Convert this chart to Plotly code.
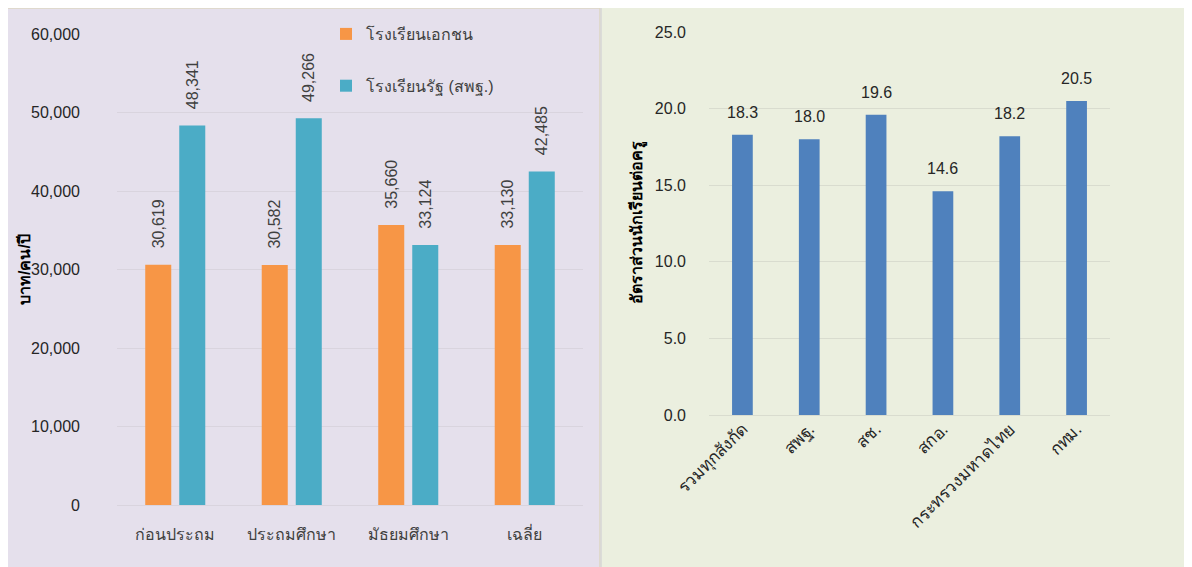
import plotly.graph_objects as go

# ---- data ----
left_categories = ["ก่อนประถม", "ประถมศึกษา", "มัธยมศึกษา", "เฉลี่ย"]
private_values = [30619, 30582, 35660, 33130]
public_values = [48341, 49266, 33124, 42485]
private_name = "โรงเรียนเอกชน"
public_name = "โรงเรียนรัฐ (สพฐ.)"
left_ytitle = "บาท/คน/ปี"

right_categories = ["รวมทุกสังกัด", "สพฐ.", "สช.", "สกอ.", "กระทรวงมหาดไทย", "กทม."]
ratio_values = [18.3, 18.0, 19.6, 14.6, 18.2, 20.5]
right_ytitle = "อัตราส่วนนักเรียนต่อครู"

# page body has an 8px margin; lay out in reference-pixel terms and compensate
OFF = 8
W, H = 1192 - OFF, 567 - OFF
FONT = "Liberation Sans, Arial, sans-serif"
TXT = "#262626"
TICK = "#404040"


def px_x(p):
    return (p - OFF) / W


def px_y(p):
    return 1 - (p - OFF) / H


pad = "\u00a0\u00a0\u00a0"

fig = go.Figure()
fig.add_trace(go.Bar(
    x=left_categories, y=private_values, name=private_name,
    marker=dict(color="#f79646", line=dict(width=0)),
    text=[pad + f"{v:,}" for v in private_values], textposition="outside",
    textangle=-90, textfont=dict(size=16, color=TICK, family=FONT),
    constraintext="none", cliponaxis=False, legendgroup="a", xaxis="x", yaxis="y",
))
fig.add_trace(go.Bar(
    x=left_categories, y=public_values, name=public_name,
    marker=dict(color="#4bacc6", line=dict(width=0)),
    text=[pad + f"{v:,}" for v in public_values], textposition="outside",
    textangle=-90, textfont=dict(size=16, color=TICK, family=FONT),
    constraintext="none", cliponaxis=False, legendgroup="b", xaxis="x", yaxis="y",
))
fig.add_trace(go.Bar(
    x=right_categories, y=ratio_values, name="ratio",
    marker=dict(color="#4f81bd", line=dict(width=0)),
    showlegend=False, xaxis="x2", yaxis="y2", width=0.31,
))

annotations = []
for c, v in zip(right_categories, ratio_values):
    annotations.append(dict(
        x=c, y=v, xref="x2", yref="y2", text=f"{v:.1f}", showarrow=False,
        yanchor="bottom", yshift=12, font=dict(size=16, color=TXT, family=FONT),
    ))
annotations.append(dict(
    x=px_x(24), y=px_y(270), xref="paper", yref="paper", text="<b>" + left_ytitle + "</b>",
    textangle=-90, showarrow=False, xanchor="center", yanchor="middle",
    font=dict(size=16, color="#000000", family=FONT),
))
annotations.append(dict(
    x=px_x(638), y=px_y(223), xref="paper", yref="paper", text="<b>" + right_ytitle + "</b>",
    textangle=-90, showarrow=False, xanchor="center", yanchor="middle",
    font=dict(size=16, color="#000000", family=FONT),
))

shapes = [
    dict(type="rect", xref="paper", yref="paper", x0=px_x(5), x1=px_x(600),
         y0=-0.05, y1=px_y(8), fillcolor="#e5e0ec", line=dict(color="#ddd6c2", width=1.5),
         layer="below"),
    dict(type="rect", xref="paper", yref="paper", x0=px_x(601), x1=px_x(1190),
         y0=-0.05, y1=px_y(6), fillcolor="#ebefdf", line=dict(color="#d6d6d6", width=1.5),
         layer="below"),
]

fig.update_layout(
    template="none",
    width=W, height=H,
    margin=dict(l=0, r=0, t=0, b=0, pad=0),
    paper_bgcolor="white", plot_bgcolor="rgba(0,0,0,0)",
    font=dict(family=FONT, color=TICK, size=16),
    barmode="group", bargap=0.416, bargroupgap=0.235,
    shapes=shapes, annotations=annotations,
    showlegend=True,
    legend=dict(x=px_x(326), y=px_y(17), xanchor="left", yanchor="top",
                bgcolor="rgba(0,0,0,0)", font=dict(size=16, color=TICK),
                tracegroupgap=28, itemwidth=30),
    xaxis=dict(domain=[px_x(117), px_x(583)], anchor="y", showgrid=False, automargin=False,
               tickfont=dict(size=16, color=TICK), ticks="", showline=False, zeroline=False,
               ticklabelstandoff=18),
    yaxis=dict(domain=[px_y(505), px_y(34)], anchor="x", range=[0, 60000], automargin=False,
               dtick=10000, tickformat=",", showgrid=True, gridcolor="#d9d4de",
               gridwidth=1, zeroline=True, zerolinecolor="#d9d4de", zerolinewidth=1,
               showline=False, tickfont=dict(size=16, color=TXT), ticks="",
               ticklabelstandoff=36),
    xaxis2=dict(domain=[px_x(709), px_x(1110)], anchor="y2", showgrid=False, automargin=False,
                tickangle=-45, tickfont=dict(size=17, color=TXT), ticks="", showline=False,
                zeroline=False),
    yaxis2=dict(domain=[px_y(415), px_y(32)], anchor="x2", range=[0, 25], automargin=False,
                dtick=5, tickformat=".1f", showgrid=True, gridcolor="#d9dccf",
                gridwidth=1, zeroline=True, zerolinecolor="#d9dccf", zerolinewidth=1,
                showline=False, tickfont=dict(size=16, color=TXT), ticks="",
                ticklabelstandoff=22),
)

fig.write_html("out.html")
